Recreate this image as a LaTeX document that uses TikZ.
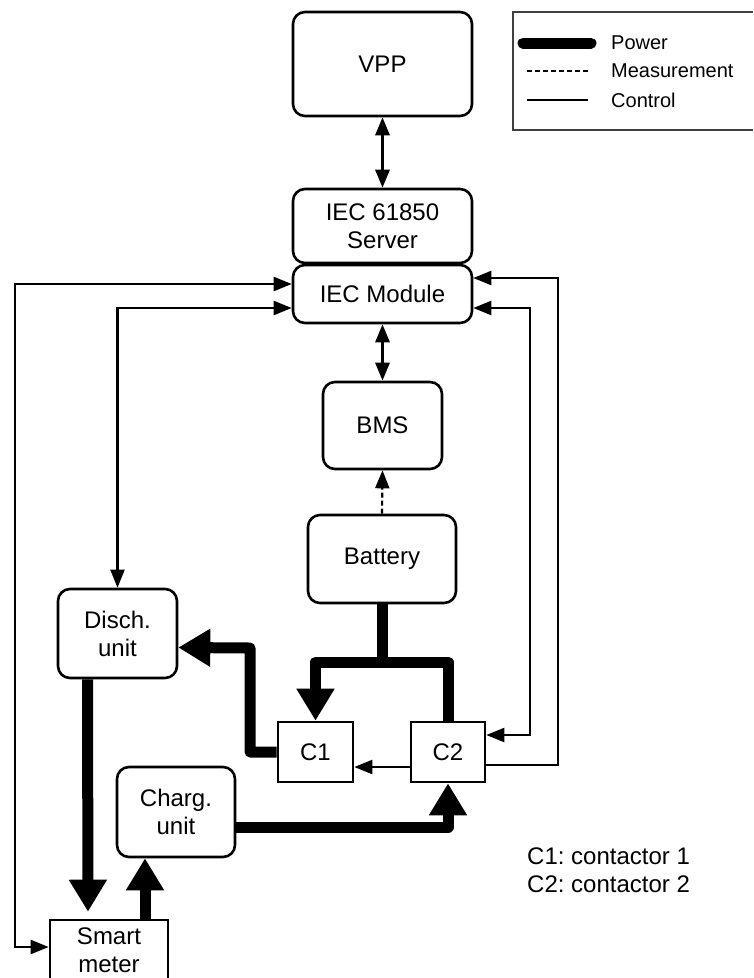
\documentclass[tikz,border=0pt]{standalone}
\usepackage{fontspec}
\setmainfont{Liberation Sans}
\usetikzlibrary{arrows.meta, positioning, calc}
\frenchspacing

\begin{document}
\begin{tikzpicture}[x=1pt, y=-1pt, font=\fontsize{24}{28}\selectfont,
    rbox/.style={draw, line width=2.6pt, rounded corners=12pt, align=center, inner sep=0pt},
    sbox/.style={draw, line width=2.6pt, align=center, inner sep=0pt},
    ctrl/.style={line width=2.2pt, >={Triangle[length=18pt, width=14pt]}},
    meas/.style={line width=2.2pt, dash pattern=on 5pt off 3pt, >={Triangle[length=18pt, width=14pt]}},
    power/.style={line width=11pt, line join=round, >={Triangle[length=32pt, width=36pt]}},
    lgtext/.style={anchor=west, inner sep=0pt, font=\fontsize{20}{24}\selectfont}]
    \useasboundingbox (0,0) rectangle (753,978);

    % blocks
    \node[rbox, minimum width=179pt, minimum height=104pt] (vpp) at (382.5,64) {VPP};
    \node[rbox, minimum width=179pt, minimum height=74pt] (srv) at (382.5,226) {IEC 61850\\Server};
    \node[rbox, minimum width=179pt, minimum height=58pt] (iec) at (382.5,294) {IEC Module};
    \node[rbox, minimum width=119pt, minimum height=87pt] (bms) at (382.5,425.5) {BMS};
    \node[rbox, minimum width=148pt, minimum height=88pt] (bat) at (382,559) {Battery};
    \node[rbox, minimum width=119pt, minimum height=89pt] (dis) at (117.5,633.5) {Disch.\\unit};
    \node[sbox, minimum width=75pt, minimum height=60pt] (c1) at (315.5,752) {C1};
    \node[sbox, minimum width=74pt, minimum height=60pt] (c2) at (448,752) {C2};
    \node[rbox, minimum width=118pt, minimum height=90pt] (chg) at (176,812) {Charg.\\unit};
    \node[sbox, minimum width=118pt, minimum height=60pt] (sm) at (109,950) {Smart\\meter};
    \node[anchor=west, align=left, inner sep=0pt] (note) at (527,870) {C1: contactor 1\\C2: contactor 2};

    % power
    \coordinate (split) at (382,662);
    \draw[power] (bat.south) -- (split) -| (c2.north);
    \draw[power, ->] (split) -| (c1.north);
    \draw[power, ->] (c1.west) -| (250,648) -- ([yshift=-14pt]dis.east);
    \draw[power, ->, shorten >=7pt] ([xshift=-30pt]dis.south) -- ([xshift=-21pt]sm.north);
    \draw[power, ->] ([xshift=36pt]sm.north) -- ([xshift=-31pt]chg.south);
    \draw[power, ->] ([yshift=-15pt]chg.east) -| (c2.south);

    % measurement and control
    \draw[ctrl, line width=3pt, <->] (vpp.south) -- (srv.north);
    \draw[ctrl, line width=3pt, <->] (iec.south) -- (bms.north);
    \draw[meas, ->] (bat.north) -- (bms.south);
    \draw[ctrl, ->] ([yshift=-15pt]c2.west) -- ([yshift=-15pt]c1.east);
    \draw[ctrl, <->] ([yshift=-14pt]iec.east) -| (530,735) -- ([yshift=17pt]c2.east);
    \draw[ctrl, ->] ([yshift=-13pt]c2.east) -| (558,278) -- ([yshift=16pt]iec.east);
    \draw[ctrl, <->] ([yshift=-14pt]iec.west) -| (dis.north);
    \draw[ctrl, <->] ([yshift=10pt]iec.west) -| (15,947) -- ([yshift=3pt]sm.west);

    % legend
    \draw[line width=1.2pt, black!75] (753,12) -- (513,12) -- (513,130) -- (753,130);
    \coordinate (pw0) at (523,43);
    \coordinate (pw1) at (591,43);
    \coordinate (ms0) at (527,71);
    \coordinate (ms1) at (588,71);
    \coordinate (ct0) at (527,100);
    \coordinate (ct1) at (588,100);
    \draw[line width=11pt, line cap=round] (pw0) -- (pw1);
    \draw[meas] (ms0) -- (ms1);
    \draw[ctrl] (ct0) -- (ct1);
    \node[lgtext] (pwt) at (611,43) {Power};
    \node[lgtext] (mst) at (611,71) {Measurement};
    \node[lgtext] (ctt) at (611,100) {Control};
\end{tikzpicture}
\end{document}
